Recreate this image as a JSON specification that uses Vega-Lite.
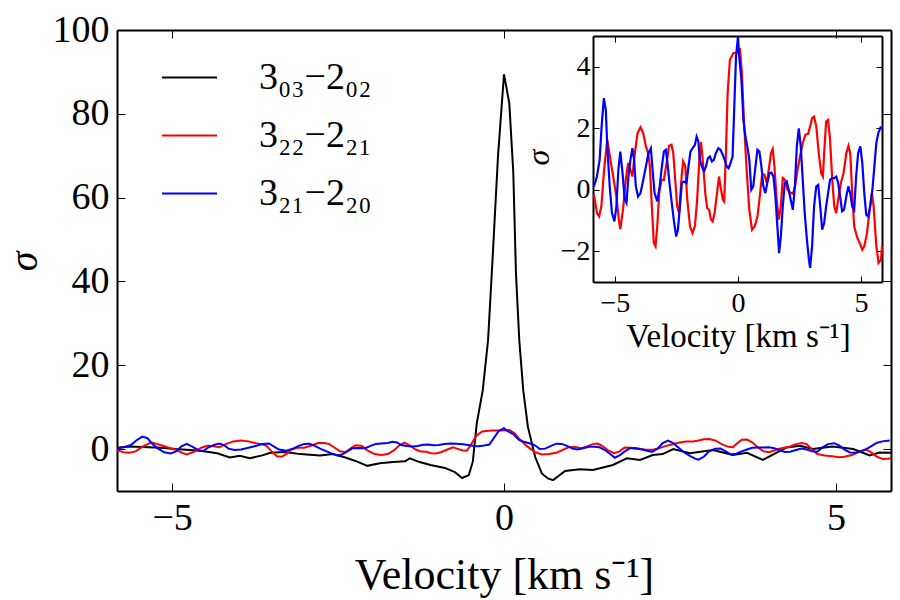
{
  "$schema": "https://vega.github.io/schema/vega-lite/v6.json",
  "width": 774,
  "height": 461,
  "autosize": "none",
  "padding": {"left": 117, "top": 30, "right": 9, "bottom": 109},
  "background": "white",
  "config": {
    "view": {"stroke": null},
    "font": "Liberation Serif",
    "axis": {
      "grid": false,
      "domainColor": "black",
      "domainWidth": 2,
      "tickColor": "black",
      "tickWidth": 1,
      "labelFont": "Liberation Serif",
      "labelColor": "black",
      "titleFont": "Liberation Serif",
      "titleFontWeight": "normal",
      "titleColor": "black"
    }
  },
  "datasets": {
    "spectra": [
      {"line": "3₀₃−2₀₂", "v": -5.85, "s": 0.3},
      {"line": "3₀₃−2₀₂", "v": -5.63, "s": 0.6},
      {"line": "3₀₃−2₀₂", "v": -5.44, "s": 0.5},
      {"line": "3₀₃−2₀₂", "v": -5.18, "s": 0.3},
      {"line": "3₀₃−2₀₂", "v": -4.95, "s": 0.0},
      {"line": "3₀₃−2₀₂", "v": -4.73, "s": -0.2},
      {"line": "3₀₃−2₀₂", "v": -4.58, "s": -0.4},
      {"line": "3₀₃−2₀₂", "v": -4.32, "s": -1.0},
      {"line": "3₀₃−2₀₂", "v": -4.13, "s": -2.0},
      {"line": "3₀₃−2₀₂", "v": -3.98, "s": -1.6},
      {"line": "3₀₃−2₀₂", "v": -3.83, "s": -2.2},
      {"line": "3₀₃−2₀₂", "v": -3.64, "s": -1.5},
      {"line": "3₀₃−2₀₂", "v": -3.52, "s": -0.9},
      {"line": "3₀₃−2₀₂", "v": -3.30, "s": -0.7},
      {"line": "3₀₃−2₀₂", "v": -3.07, "s": -1.2},
      {"line": "3₀₃−2₀₂", "v": -2.77, "s": -1.5},
      {"line": "3₀₃−2₀₂", "v": -2.58, "s": -1.2},
      {"line": "3₀₃−2₀₂", "v": -2.39, "s": -2.0},
      {"line": "3₀₃−2₀₂", "v": -2.21, "s": -3.0},
      {"line": "3₀₃−2₀₂", "v": -2.06, "s": -4.0},
      {"line": "3₀₃−2₀₂", "v": -1.87, "s": -3.4},
      {"line": "3₀₃−2₀₂", "v": -1.67, "s": -3.1},
      {"line": "3₀₃−2₀₂", "v": -1.49, "s": -2.9},
      {"line": "3₀₃−2₀₂", "v": -1.42, "s": -2.2},
      {"line": "3₀₃−2₀₂", "v": -1.27, "s": -3.1},
      {"line": "3₀₃−2₀₂", "v": -1.11, "s": -3.8},
      {"line": "3₀₃−2₀₂", "v": -0.89, "s": -4.5},
      {"line": "3₀₃−2₀₂", "v": -0.74, "s": -5.5},
      {"line": "3₀₃−2₀₂", "v": -0.63, "s": -6.9},
      {"line": "3₀₃−2₀₂", "v": -0.53, "s": -6.2},
      {"line": "3₀₃−2₀₂", "v": -0.47, "s": -3.0},
      {"line": "3₀₃−2₀₂", "v": -0.41, "s": 6.2},
      {"line": "3₀₃−2₀₂", "v": -0.32, "s": 14},
      {"line": "3₀₃−2₀₂", "v": -0.24, "s": 26},
      {"line": "3₀₃−2₀₂", "v": -0.17, "s": 46},
      {"line": "3₀₃−2₀₂", "v": -0.09, "s": 70},
      {"line": "3₀₃−2₀₂", "v": 0.0, "s": 89.4},
      {"line": "3₀₃−2₀₂", "v": 0.08, "s": 82.5},
      {"line": "3₀₃−2₀₂", "v": 0.14, "s": 66},
      {"line": "3₀₃−2₀₂", "v": 0.18, "s": 42},
      {"line": "3₀₃−2₀₂", "v": 0.23, "s": 26},
      {"line": "3₀₃−2₀₂", "v": 0.29, "s": 14},
      {"line": "3₀₃−2₀₂", "v": 0.36, "s": 5.3},
      {"line": "3₀₃−2₀₂", "v": 0.47, "s": -1.9},
      {"line": "3₀₃−2₀₂", "v": 0.57, "s": -5.8},
      {"line": "3₀₃−2₀₂", "v": 0.66, "s": -7.0},
      {"line": "3₀₃−2₀₂", "v": 0.74, "s": -7.4},
      {"line": "3₀₃−2₀₂", "v": 0.92, "s": -5.2},
      {"line": "3₀₃−2₀₂", "v": 1.14, "s": -4.8},
      {"line": "3₀₃−2₀₂", "v": 1.34, "s": -5.0},
      {"line": "3₀₃−2₀₂", "v": 1.64, "s": -3.8},
      {"line": "3₀₃−2₀₂", "v": 1.85, "s": -2.2},
      {"line": "3₀₃−2₀₂", "v": 2.05, "s": -2.6},
      {"line": "3₀₃−2₀₂", "v": 2.24, "s": -1.4},
      {"line": "3₀₃−2₀₂", "v": 2.39, "s": -1.2},
      {"line": "3₀₃−2₀₂", "v": 2.55, "s": 0.0},
      {"line": "3₀₃−2₀₂", "v": 2.80, "s": -1.0},
      {"line": "3₀₃−2₀₂", "v": 3.15, "s": -0.2},
      {"line": "3₀₃−2₀₂", "v": 3.45, "s": -1.4},
      {"line": "3₀₃−2₀₂", "v": 3.66, "s": -0.9},
      {"line": "3₀₃−2₀₂", "v": 3.90, "s": -2.6},
      {"line": "3₀₃−2₀₂", "v": 4.05, "s": -1.3},
      {"line": "3₀₃−2₀₂", "v": 4.26, "s": 0.4},
      {"line": "3₀₃−2₀₂", "v": 4.46, "s": 0.8},
      {"line": "3₀₃−2₀₂", "v": 4.65, "s": 0.0},
      {"line": "3₀₃−2₀₂", "v": 4.95, "s": 0.6},
      {"line": "3₀₃−2₀₂", "v": 5.26, "s": 0.0},
      {"line": "3₀₃−2₀₂", "v": 5.51, "s": -1.5},
      {"line": "3₀₃−2₀₂", "v": 5.66, "s": -0.8},
      {"line": "3₀₃−2₀₂", "v": 5.85, "s": -0.9},

      {"line": "3₂₂−2₂₁", "v": -5.85, "s": -0.16},
      {"line": "3₂₂−2₂₁", "v": -5.73, "s": -0.76},
      {"line": "3₂₂−2₂₁", "v": -5.64, "s": -0.87},
      {"line": "3₂₂−2₂₁", "v": -5.55, "s": -0.54},
      {"line": "3₂₂−2₂₁", "v": -5.44, "s": 0.65},
      {"line": "3₂₂−2₂₁", "v": -5.31, "s": 1.62},
      {"line": "3₂₂−2₂₁", "v": -5.18, "s": 0.97},
      {"line": "3₂₂−2₂₁", "v": -5.07, "s": 0.43},
      {"line": "3₂₂−2₂₁", "v": -4.94, "s": -0.22},
      {"line": "3₂₂−2₂₁", "v": -4.84, "s": -0.97},
      {"line": "3₂₂−2₂₁", "v": -4.78, "s": -1.28},
      {"line": "3₂₂−2₂₁", "v": -4.67, "s": -0.65},
      {"line": "3₂₂−2₂₁", "v": -4.56, "s": 0.32},
      {"line": "3₂₂−2₂₁", "v": -4.46, "s": 0.87},
      {"line": "3₂₂−2₂₁", "v": -4.37, "s": 0.65},
      {"line": "3₂₂−2₂₁", "v": -4.29, "s": 0.43},
      {"line": "3₂₂−2₂₁", "v": -4.19, "s": 1.19},
      {"line": "3₂₂−2₂₁", "v": -4.08, "s": 1.84},
      {"line": "3₂₂−2₂₁", "v": -3.96, "s": 2.03},
      {"line": "3₂₂−2₂₁", "v": -3.85, "s": 1.84},
      {"line": "3₂₂−2₂₁", "v": -3.74, "s": 1.41},
      {"line": "3₂₂−2₂₁", "v": -3.65, "s": 1.19},
      {"line": "3₂₂−2₂₁", "v": -3.58, "s": 0.76},
      {"line": "3₂₂−2₂₁", "v": -3.50, "s": -0.54},
      {"line": "3₂₂−2₂₁", "v": -3.42, "s": -1.73},
      {"line": "3₂₂−2₂₁", "v": -3.35, "s": -1.84},
      {"line": "3₂₂−2₂₁", "v": -3.28, "s": -1.19},
      {"line": "3₂₂−2₂₁", "v": -3.20, "s": -0.11},
      {"line": "3₂₂−2₂₁", "v": -3.11, "s": 0.32},
      {"line": "3₂₂−2₂₁", "v": -3.01, "s": 0.32},
      {"line": "3₂₂−2₂₁", "v": -2.90, "s": 0.87},
      {"line": "3₂₂−2₂₁", "v": -2.80, "s": 1.43},
      {"line": "3₂₂−2₂₁", "v": -2.70, "s": 1.46},
      {"line": "3₂₂−2₂₁", "v": -2.63, "s": 1.19},
      {"line": "3₂₂−2₂₁", "v": -2.55, "s": 0.32},
      {"line": "3₂₂−2₂₁", "v": -2.47, "s": -0.54},
      {"line": "3₂₂−2₂₁", "v": -2.39, "s": -0.76},
      {"line": "3₂₂−2₂₁", "v": -2.29, "s": 0.43},
      {"line": "3₂₂−2₂₁", "v": -2.23, "s": 0.92},
      {"line": "3₂₂−2₂₁", "v": -2.14, "s": 0.76},
      {"line": "3₂₂−2₂₁", "v": -2.06, "s": -0.32},
      {"line": "3₂₂−2₂₁", "v": -1.95, "s": -1.19},
      {"line": "3₂₂−2₂₁", "v": -1.85, "s": -1.41},
      {"line": "3₂₂−2₂₁", "v": -1.75, "s": -1.19},
      {"line": "3₂₂−2₂₁", "v": -1.66, "s": -0.32},
      {"line": "3₂₂−2₂₁", "v": -1.57, "s": 0.97},
      {"line": "3₂₂−2₂₁", "v": -1.50, "s": 1.55},
      {"line": "3₂₂−2₂₁", "v": -1.41, "s": 0.76},
      {"line": "3₂₂−2₂₁", "v": -1.33, "s": -0.11},
      {"line": "3₂₂−2₂₁", "v": -1.25, "s": -0.60},
      {"line": "3₂₂−2₂₁", "v": -1.17, "s": -0.65},
      {"line": "3₂₂−2₂₁", "v": -1.10, "s": -0.97},
      {"line": "3₂₂−2₂₁", "v": -1.03, "s": -1.03},
      {"line": "3₂₂−2₂₁", "v": -0.95, "s": -0.76},
      {"line": "3₂₂−2₂₁", "v": -0.87, "s": -0.22},
      {"line": "3₂₂−2₂₁", "v": -0.77, "s": 0.43},
      {"line": "3₂₂−2₂₁", "v": -0.71, "s": 0.11},
      {"line": "3₂₂−2₂₁", "v": -0.62, "s": -0.32},
      {"line": "3₂₂−2₂₁", "v": -0.56, "s": -0.38},
      {"line": "3₂₂−2₂₁", "v": -0.50, "s": 0.97},
      {"line": "3₂₂−2₂₁", "v": -0.42, "s": 3.14},
      {"line": "3₂₂−2₂₁", "v": -0.33, "s": 4.22},
      {"line": "3₂₂−2₂₁", "v": -0.19, "s": 4.44},
      {"line": "3₂₂−2₂₁", "v": -0.05, "s": 4.46},
      {"line": "3₂₂−2₂₁", "v": 0.08, "s": 4.55},
      {"line": "3₂₂−2₂₁", "v": 0.16, "s": 3.79},
      {"line": "3₂₂−2₂₁", "v": 0.24, "s": 2.27},
      {"line": "3₂₂−2₂₁", "v": 0.35, "s": 0.65},
      {"line": "3₂₂−2₂₁", "v": 0.46, "s": -0.65},
      {"line": "3₂₂−2₂₁", "v": 0.57, "s": -1.30},
      {"line": "3₂₂−2₂₁", "v": 0.68, "s": -1.19},
      {"line": "3₂₂−2₂₁", "v": 0.79, "s": -0.87},
      {"line": "3₂₂−2₂₁", "v": 0.87, "s": -0.32},
      {"line": "3₂₂−2₂₁", "v": 0.98, "s": 0.49},
      {"line": "3₂₂−2₂₁", "v": 1.07, "s": 0.49},
      {"line": "3₂₂−2₂₁", "v": 1.17, "s": 0.22},
      {"line": "3₂₂−2₂₁", "v": 1.25, "s": 0.65},
      {"line": "3₂₂−2₂₁", "v": 1.34, "s": 1.19},
      {"line": "3₂₂−2₂₁", "v": 1.41, "s": 1.32},
      {"line": "3₂₂−2₂₁", "v": 1.48, "s": 0.76},
      {"line": "3₂₂−2₂₁", "v": 1.57, "s": -0.32},
      {"line": "3₂₂−2₂₁", "v": 1.66, "s": -0.97},
      {"line": "3₂₂−2₂₁", "v": 1.74, "s": -0.54},
      {"line": "3₂₂−2₂₁", "v": 1.82, "s": 0.38},
      {"line": "3₂₂−2₂₁", "v": 1.91, "s": 0.32},
      {"line": "3₂₂−2₂₁", "v": 2.01, "s": 0.0},
      {"line": "3₂₂−2₂₁", "v": 2.12, "s": -0.09},
      {"line": "3₂₂−2₂₁", "v": 2.23, "s": -0.13},
      {"line": "3₂₂−2₂₁", "v": 2.32, "s": 0.11},
      {"line": "3₂₂−2₂₁", "v": 2.42, "s": 0.65},
      {"line": "3₂₂−2₂₁", "v": 2.52, "s": 1.08},
      {"line": "3₂₂−2₂₁", "v": 2.63, "s": 1.52},
      {"line": "3₂₂−2₂₁", "v": 2.74, "s": 1.79},
      {"line": "3₂₂−2₂₁", "v": 2.85, "s": 1.82},
      {"line": "3₂₂−2₂₁", "v": 2.93, "s": 2.06},
      {"line": "3₂₂−2₂₁", "v": 3.01, "s": 2.33},
      {"line": "3₂₂−2₂₁", "v": 3.09, "s": 2.38},
      {"line": "3₂₂−2₂₁", "v": 3.18, "s": 2.06},
      {"line": "3₂₂−2₂₁", "v": 3.28, "s": 1.19},
      {"line": "3₂₂−2₂₁", "v": 3.38, "s": 0.54},
      {"line": "3₂₂−2₂₁", "v": 3.45, "s": 0.43},
      {"line": "3₂₂−2₂₁", "v": 3.50, "s": 1.19},
      {"line": "3₂₂−2₂₁", "v": 3.58, "s": 2.22},
      {"line": "3₂₂−2₂₁", "v": 3.66, "s": 2.27},
      {"line": "3₂₂−2₂₁", "v": 3.74, "s": 1.62},
      {"line": "3₂₂−2₂₁", "v": 3.83, "s": 0.32},
      {"line": "3₂₂−2₂₁", "v": 3.91, "s": -0.54},
      {"line": "3₂₂−2₂₁", "v": 3.99, "s": -0.76},
      {"line": "3₂₂−2₂₁", "v": 4.07, "s": -0.32},
      {"line": "3₂₂−2₂₁", "v": 4.18, "s": 0.22},
      {"line": "3₂₂−2₂₁", "v": 4.29, "s": 0.54},
      {"line": "3₂₂−2₂₁", "v": 4.40, "s": 1.19},
      {"line": "3₂₂−2₂₁", "v": 4.49, "s": 1.43},
      {"line": "3₂₂−2₂₁", "v": 4.56, "s": 1.19},
      {"line": "3₂₂−2₂₁", "v": 4.64, "s": -0.11},
      {"line": "3₂₂−2₂₁", "v": 4.72, "s": -1.19},
      {"line": "3₂₂−2₂₁", "v": 4.83, "s": -1.52},
      {"line": "3₂₂−2₂₁", "v": 4.94, "s": -1.73},
      {"line": "3₂₂−2₂₁", "v": 5.05, "s": -1.95},
      {"line": "3₂₂−2₂₁", "v": 5.13, "s": -1.84},
      {"line": "3₂₂−2₂₁", "v": 5.24, "s": -1.41},
      {"line": "3₂₂−2₂₁", "v": 5.35, "s": -0.65},
      {"line": "3₂₂−2₂₁", "v": 5.44, "s": -0.11},
      {"line": "3₂₂−2₂₁", "v": 5.51, "s": -0.54},
      {"line": "3₂₂−2₂₁", "v": 5.62, "s": -1.84},
      {"line": "3₂₂−2₂₁", "v": 5.71, "s": -2.38},
      {"line": "3₂₂−2₂₁", "v": 5.81, "s": -2.27},
      {"line": "3₂₂−2₂₁", "v": 5.85, "s": -1.84},

      {"line": "3₂₁−2₂₀", "v": -5.85, "s": 0.11},
      {"line": "3₂₁−2₂₀", "v": -5.73, "s": 0.43},
      {"line": "3₂₁−2₂₀", "v": -5.62, "s": 0.97},
      {"line": "3₂₁−2₂₀", "v": -5.54, "s": 2.06},
      {"line": "3₂₁−2₂₀", "v": -5.45, "s": 2.98},
      {"line": "3₂₁−2₂₀", "v": -5.37, "s": 2.60},
      {"line": "3₂₁−2₂₀", "v": -5.31, "s": 1.41},
      {"line": "3₂₁−2₂₀", "v": -5.21, "s": 0.11},
      {"line": "3₂₁−2₂₀", "v": -5.12, "s": -0.76},
      {"line": "3₂₁−2₂₀", "v": -5.02, "s": -1.03},
      {"line": "3₂₁−2₂₀", "v": -4.94, "s": -0.54},
      {"line": "3₂₁−2₂₀", "v": -4.86, "s": 0.65},
      {"line": "3₂₁−2₂₀", "v": -4.78, "s": 1.24},
      {"line": "3₂₁−2₂₀", "v": -4.69, "s": 0.54},
      {"line": "3₂₁−2₂₀", "v": -4.60, "s": -0.32},
      {"line": "3₂₁−2₂₀", "v": -4.53, "s": -0.43},
      {"line": "3₂₁−2₂₀", "v": -4.45, "s": 0.43},
      {"line": "3₂₁−2₂₀", "v": -4.37, "s": 0.97},
      {"line": "3₂₁−2₂₀", "v": -4.29, "s": 1.35},
      {"line": "3₂₁−2₂₀", "v": -4.22, "s": 0.97},
      {"line": "3₂₁−2₂₀", "v": -4.15, "s": 0.11},
      {"line": "3₂₁−2₂₀", "v": -4.06, "s": -0.22},
      {"line": "3₂₁−2₂₀", "v": -3.96, "s": -0.11},
      {"line": "3₂₁−2₂₀", "v": -3.85, "s": 0.32},
      {"line": "3₂₁−2₂₀", "v": -3.74, "s": 0.76},
      {"line": "3₂₁−2₂₀", "v": -3.64, "s": 1.19},
      {"line": "3₂₁−2₂₀", "v": -3.54, "s": 1.35},
      {"line": "3₂₁−2₂₀", "v": -3.47, "s": 0.65},
      {"line": "3₂₁−2₂₀", "v": -3.39, "s": -0.11},
      {"line": "3₂₁−2₂₀", "v": -3.28, "s": -0.38},
      {"line": "3₂₁−2₂₀", "v": -3.18, "s": 0.11},
      {"line": "3₂₁−2₂₀", "v": -3.09, "s": 0.76},
      {"line": "3₂₁−2₂₀", "v": -3.01, "s": 1.24},
      {"line": "3₂₁−2₂₀", "v": -2.93, "s": 1.30},
      {"line": "3₂₁−2₂₀", "v": -2.85, "s": 0.76},
      {"line": "3₂₁−2₂₀", "v": -2.77, "s": 0.11},
      {"line": "3₂₁−2₂₀", "v": -2.69, "s": -0.43},
      {"line": "3₂₁−2₂₀", "v": -2.61, "s": -0.97},
      {"line": "3₂₁−2₂₀", "v": -2.51, "s": -1.52},
      {"line": "3₂₁−2₂₀", "v": -2.44, "s": -1.30},
      {"line": "3₂₁−2₂₀", "v": -2.36, "s": -0.54},
      {"line": "3₂₁−2₂₀", "v": -2.28, "s": 0.22},
      {"line": "3₂₁−2₂₀", "v": -2.20, "s": 0.27},
      {"line": "3₂₁−2₂₀", "v": -2.09, "s": 0.22},
      {"line": "3₂₁−2₂₀", "v": -2.01, "s": 0.76},
      {"line": "3₂₁−2₂₀", "v": -1.93, "s": 1.24},
      {"line": "3₂₁−2₂₀", "v": -1.85, "s": 1.35},
      {"line": "3₂₁−2₂₀", "v": -1.75, "s": 1.46},
      {"line": "3₂₁−2₂₀", "v": -1.68, "s": 1.73},
      {"line": "3₂₁−2₂₀", "v": -1.61, "s": 1.57},
      {"line": "3₂₁−2₂₀", "v": -1.55, "s": 0.97},
      {"line": "3₂₁−2₂₀", "v": -1.47, "s": 0.76},
      {"line": "3₂₁−2₂₀", "v": -1.38, "s": 0.60},
      {"line": "3₂₁−2₂₀", "v": -1.30, "s": 0.76},
      {"line": "3₂₁−2₂₀", "v": -1.22, "s": 1.03},
      {"line": "3₂₁−2₂₀", "v": -1.14, "s": 1.08},
      {"line": "3₂₁−2₂₀", "v": -1.06, "s": 0.92},
      {"line": "3₂₁−2₂₀", "v": -0.98, "s": 0.97},
      {"line": "3₂₁−2₂₀", "v": -0.90, "s": 1.19},
      {"line": "3₂₁−2₂₀", "v": -0.80, "s": 1.35},
      {"line": "3₂₁−2₂₀", "v": -0.71, "s": 1.30},
      {"line": "3₂₁−2₂₀", "v": -0.62, "s": 1.14},
      {"line": "3₂₁−2₂₀", "v": -0.54, "s": 0.97},
      {"line": "3₂₁−2₂₀", "v": -0.46, "s": 0.76},
      {"line": "3₂₁−2₂₀", "v": -0.38, "s": 0.70},
      {"line": "3₂₁−2₂₀", "v": -0.30, "s": 0.87},
      {"line": "3₂₁−2₂₀", "v": -0.22, "s": 1.08},
      {"line": "3₂₁−2₂₀", "v": -0.15, "s": 2.71},
      {"line": "3₂₁−2₂₀", "v": -0.08, "s": 4.33},
      {"line": "3₂₁−2₂₀", "v": 0.0, "s": 4.98},
      {"line": "3₂₁−2₂₀", "v": 0.05, "s": 4.33},
      {"line": "3₂₁−2₂₀", "v": 0.14, "s": 3.57},
      {"line": "3₂₁−2₂₀", "v": 0.22, "s": 2.27},
      {"line": "3₂₁−2₂₀", "v": 0.30, "s": 1.73},
      {"line": "3₂₁−2₂₀", "v": 0.38, "s": 1.41},
      {"line": "3₂₁−2₂₀", "v": 0.46, "s": 0.97},
      {"line": "3₂₁−2₂₀", "v": 0.54, "s": 0.0},
      {"line": "3₂₁−2₂₀", "v": 0.62, "s": 0.11},
      {"line": "3₂₁−2₂₀", "v": 0.71, "s": 0.76},
      {"line": "3₂₁−2₂₀", "v": 0.79, "s": 1.30},
      {"line": "3₂₁−2₂₀", "v": 0.87, "s": 1.24},
      {"line": "3₂₁−2₂₀", "v": 0.95, "s": 0.76},
      {"line": "3₂₁−2₂₀", "v": 1.03, "s": 0.11},
      {"line": "3₂₁−2₂₀", "v": 1.11, "s": -0.11},
      {"line": "3₂₁−2₂₀", "v": 1.19, "s": 0.22},
      {"line": "3₂₁−2₂₀", "v": 1.28, "s": 0.54},
      {"line": "3₂₁−2₂₀", "v": 1.36, "s": 0.56},
      {"line": "3₂₁−2₂₀", "v": 1.44, "s": 0.43},
      {"line": "3₂₁−2₂₀", "v": 1.52, "s": -0.22},
      {"line": "3₂₁−2₂₀", "v": 1.60, "s": -1.19},
      {"line": "3₂₁−2₂₀", "v": 1.67, "s": -2.06},
      {"line": "3₂₁−2₂₀", "v": 1.74, "s": -1.52},
      {"line": "3₂₁−2₂₀", "v": 1.82, "s": -0.54},
      {"line": "3₂₁−2₂₀", "v": 1.90, "s": 0.22},
      {"line": "3₂₁−2₂₀", "v": 1.98, "s": 0.27},
      {"line": "3₂₁−2₂₀", "v": 2.06, "s": 0.0},
      {"line": "3₂₁−2₂₀", "v": 2.14, "s": -0.32},
      {"line": "3₂₁−2₂₀", "v": 2.23, "s": -0.65},
      {"line": "3₂₁−2₂₀", "v": 2.31, "s": 0.11},
      {"line": "3₂₁−2₂₀", "v": 2.39, "s": 1.41},
      {"line": "3₂₁−2₂₀", "v": 2.47, "s": 2.00},
      {"line": "3₂₁−2₂₀", "v": 2.55, "s": 1.41},
      {"line": "3₂₁−2₂₀", "v": 2.63, "s": 0.32},
      {"line": "3₂₁−2₂₀", "v": 2.71, "s": -0.76},
      {"line": "3₂₁−2₂₀", "v": 2.80, "s": -1.62},
      {"line": "3₂₁−2₂₀", "v": 2.88, "s": -2.27},
      {"line": "3₂₁−2₂₀", "v": 2.93, "s": -2.54},
      {"line": "3₂₁−2₂₀", "v": 3.01, "s": -1.84},
      {"line": "3₂₁−2₂₀", "v": 3.09, "s": -0.54},
      {"line": "3₂₁−2₂₀", "v": 3.18, "s": 0.11},
      {"line": "3₂₁−2₂₀", "v": 3.26, "s": 0.16},
      {"line": "3₂₁−2₂₀", "v": 3.34, "s": -0.54},
      {"line": "3₂₁−2₂₀", "v": 3.42, "s": -1.30},
      {"line": "3₂₁−2₂₀", "v": 3.50, "s": -1.08},
      {"line": "3₂₁−2₂₀", "v": 3.58, "s": -0.54},
      {"line": "3₂₁−2₂₀", "v": 3.66, "s": -0.11},
      {"line": "3₂₁−2₂₀", "v": 3.74, "s": 0.32},
      {"line": "3₂₁−2₂₀", "v": 3.82, "s": 0.38},
      {"line": "3₂₁−2₂₀", "v": 3.91, "s": 0.38},
      {"line": "3₂₁−2₂₀", "v": 3.99, "s": 0.43},
      {"line": "3₂₁−2₂₀", "v": 4.07, "s": 0.22},
      {"line": "3₂₁−2₂₀", "v": 4.15, "s": -0.22},
      {"line": "3₂₁−2₂₀", "v": 4.23, "s": -0.70},
      {"line": "3₂₁−2₂₀", "v": 4.31, "s": -0.65},
      {"line": "3₂₁−2₂₀", "v": 4.40, "s": -0.22},
      {"line": "3₂₁−2₂₀", "v": 4.48, "s": 0.11},
      {"line": "3₂₁−2₂₀", "v": 4.56, "s": -0.11},
      {"line": "3₂₁−2₂₀", "v": 4.64, "s": -0.54},
      {"line": "3₂₁−2₂₀", "v": 4.72, "s": -0.65},
      {"line": "3₂₁−2₂₀", "v": 4.80, "s": 0.43},
      {"line": "3₂₁−2₂₀", "v": 4.88, "s": 1.19},
      {"line": "3₂₁−2₂₀", "v": 4.97, "s": 1.41},
      {"line": "3₂₁−2₂₀", "v": 5.05, "s": 0.87},
      {"line": "3₂₁−2₂₀", "v": 5.13, "s": -0.11},
      {"line": "3₂₁−2₂₀", "v": 5.21, "s": -0.81},
      {"line": "3₂₁−2₂₀", "v": 5.29, "s": -0.87},
      {"line": "3₂₁−2₂₀", "v": 5.37, "s": -0.54},
      {"line": "3₂₁−2₂₀", "v": 5.46, "s": 0.0},
      {"line": "3₂₁−2₂₀", "v": 5.54, "s": 0.76},
      {"line": "3₂₁−2₂₀", "v": 5.62, "s": 1.52},
      {"line": "3₂₁−2₂₀", "v": 5.70, "s": 1.84},
      {"line": "3₂₁−2₂₀", "v": 5.81, "s": 2.06}
    ]
  },
  "data": {"name": "spectra"},
  "layer": [
    {
      "layer": [
        {
          "mark": {"type": "line", "strokeWidth": 2, "clip": true},
          "encoding": {
            "x": {
              "field": "v", "type": "quantitative",
              "scale": {"domain": [-5.83, 5.83], "nice": false, "zero": false},
              "axis": {
                "orient": "bottom", "values": [-5, 0, 5], "tickSize": -8,
                "labelFont": "Liberation Serif", "labelFontSize": 38, "labelPadding": 16,
                "title": "Velocity [km s⁻¹]", "titleFont": "Liberation Serif", "titleFontSize": 44,
                "titleFontWeight": "normal",
                "titleX": 387, "titleY": 97, "titleAlign": "center", "titleBaseline": "alphabetic"
              }
            },
            "y": {
              "field": "s", "type": "quantitative",
              "scale": {"domain": [-10, 100], "nice": false, "zero": false},
              "axis": {
                "orient": "left", "values": [0, 20, 40, 60, 80, 100], "tickSize": -8,
                "labelFont": "Liberation Serif", "labelFontSize": 38, "labelPadding": 16,
                "title": "σ", "titleFont": "Liberation Serif", "titleFontSize": 40,
                "titleFontStyle": "italic", "titleFontWeight": "normal",
                "titleX": -93, "titleY": 231, "titleAlign": "center", "titleBaseline": "middle", "titleAngle": -90
              }
            },
            "color": {
              "field": "line", "type": "nominal",
              "scale": {"domain": ["3₀₃−2₀₂", "3₂₂−2₂₁", "3₂₁−2₂₀"], "range": ["#000000", "#ff0000", "#0000ff"]},
              "legend": {
                "orient": "none", "legendX": 44, "legendY": 19, "title": null,
                "symbolType": "stroke", "symbolSize": 3025, "symbolStrokeWidth": 2,
                "labelFont": "Liberation Serif", "labelFontSize": 38, "labelColor": "black",
                "labelOffset": 41, "rowPadding": 10
              }
            }
          }
        },
        {
          "mark": {"type": "point", "opacity": 0, "size": 0},
          "encoding": {
            "x": {
              "field": "v", "type": "quantitative",
              "axis": {"orient": "top", "values": [-5, 0, 5], "tickSize": -8, "labels": false, "title": null}
            },
            "y": {
              "field": "s", "type": "quantitative",
              "axis": {"orient": "right", "values": [0, 20, 40, 60, 80, 100], "tickSize": -8, "labels": false, "title": null}
            }
          }
        }
      ],
      "resolve": {"axis": {"x": "independent", "y": "independent"}}
    },
    {
      "transform": [{"filter": {"field": "line", "oneOf": ["3₂₂−2₂₁", "3₂₁−2₂₀"]}}],
      "layer": [
        {
          "mark": {"type": "line", "strokeWidth": 2.2},
          "encoding": {
            "x": {
              "field": "v", "type": "quantitative",
              "scale": {"domain": [-5.89, 5.85], "range": [476, 765], "nice": false, "zero": false},
              "axis": {
                "orient": "bottom", "offset": -209, "values": [-5, 0, 5], "tickSize": -6,
                "labelFont": "Liberation Serif", "labelFontSize": 28, "labelPadding": 13,
                "title": "Velocity [km s⁻¹]", "titleFont": "Liberation Serif", "titleFontSize": 33,
                "titleFontWeight": "normal",
                "titleX": 621, "titleY": 64, "titleAlign": "center", "titleBaseline": "alphabetic"
              }
            },
            "y": {
              "field": "s", "type": "quantitative",
              "scale": {"domain": [-3, 5], "range": [252, 6], "nice": false, "zero": false},
              "axis": {
                "orient": "left", "offset": -476, "values": [-2, 0, 2, 4], "tickSize": -6,
                "labelFont": "Liberation Serif", "labelFontSize": 28, "labelPadding": 9,
                "title": "σ", "titleFont": "Liberation Serif", "titleFontSize": 32,
                "titleFontStyle": "italic", "titleFontWeight": "normal",
                "titleX": -55, "titleY": 127, "titleAlign": "center", "titleBaseline": "middle", "titleAngle": -90
              }
            },
            "color": {
              "field": "line", "type": "nominal",
              "scale": {"domain": ["3₀₃−2₀₂", "3₂₂−2₂₁", "3₂₁−2₂₀"], "range": ["#000000", "#ff0000", "#0000ff"]}
            }
          }
        },
        {
          "mark": {"type": "point", "opacity": 0, "size": 0},
          "encoding": {
            "x": {
              "field": "v", "type": "quantitative",
              "axis": {"orient": "top", "offset": -6, "values": [-5, 0, 5], "tickSize": -6, "labels": false, "title": null}
            },
            "y": {
              "field": "s", "type": "quantitative",
              "axis": {"orient": "right", "offset": -9, "values": [-2, 0, 2, 4], "tickSize": -6, "labels": false, "title": null}
            }
          }
        }
      ],
      "resolve": {"axis": {"x": "independent", "y": "independent"}}
    }
  ],
  "resolve": {"scale": {"x": "independent", "y": "independent"}}
}
